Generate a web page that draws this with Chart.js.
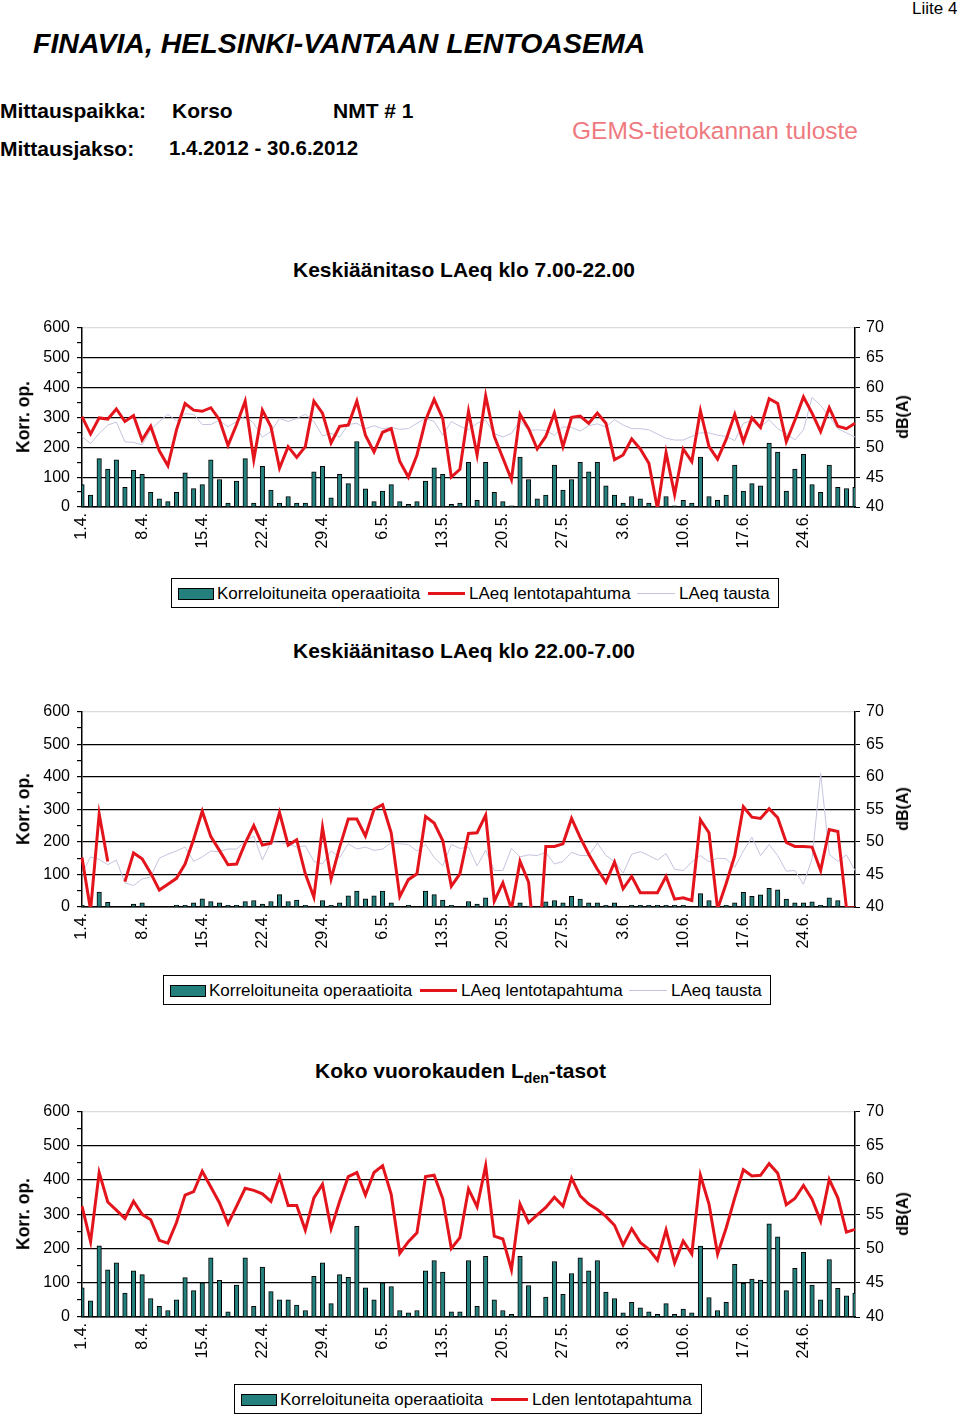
<!DOCTYPE html>
<html>
<head>
<meta charset="utf-8">
<title>Korso NMT 1</title>
<script src="https://cdn.jsdelivr.net/npm/chart.js@4.4.1/dist/chart.umd.min.js"></script>
<style>
body { margin: 0; width: 960px; height: 1418px; position: relative; overflow: hidden; background: #fff;
       font-family: "Liberation Sans", Arial, sans-serif; color: #000; }
.t { position: absolute; white-space: nowrap; line-height: 1; transform: translateY(-50%); }
.b { font-weight: bold; }
.rot { position: absolute; white-space: nowrap; line-height: 1; font-weight: bold; transform: translate(-50%, -50%) rotate(-90deg); }
canvas { position: absolute; left: 0; }
.legend { position: absolute; border: 1.5px solid #000; height: 30px; box-sizing: border-box; }
.legend span { position: absolute; top: 50%; transform: translateY(-50%); white-space: nowrap; font-size: 17px; line-height: 1; }
.legend i { position: absolute; display: block; }
</style>
</head>
<body>

<div class="t" style="left:912px;top:8px;font-size:17px;">Liite 4</div>
<div class="t b" style="left:33px;top:43px;font-size:28.5px;font-style:italic;">FINAVIA, HELSINKI-VANTAAN LENTOASEMA</div>
<div class="t b" style="left:0;top:110px;font-size:21px;">Mittauspaikka:</div>
<div class="t b" style="left:172px;top:110px;font-size:21px;">Korso</div>
<div class="t b" style="left:333px;top:110px;font-size:21px;">NMT # 1</div>
<div class="t b" style="left:0;top:148px;font-size:21px;">Mittausjakso:</div>
<div class="t b" style="left:169px;top:148px;font-size:20.5px;">1.4.2012 - 30.6.2012</div>
<div class="t" style="left:572px;top:131px;font-size:24.5px;color:#ee7a80;">GEMS-tietokannan tuloste</div>

<div class="t b" style="left:293px;top:269px;font-size:21px;">Keskiäänitaso LAeq klo 7.00-22.00</div>
<canvas id="c1" width="960" height="259" style="top:311px;width:960px;height:259px;"></canvas>
<div class="rot" style="left:24px;top:417px;font-size:17.5px;">Korr. op.</div>
<div class="rot" style="left:903px;top:417px;font-size:16px;">dB(A)</div>
<div id="lg1"></div>

<div class="t b" style="left:293px;top:650px;font-size:21px;">Keskiäänitaso LAeq klo 22.00-7.00</div>
<canvas id="c2" width="960" height="275" style="top:695px;width:960px;height:275px;"></canvas>
<div class="rot" style="left:24px;top:809px;font-size:17.5px;">Korr. op.</div>
<div class="rot" style="left:903px;top:809px;font-size:16px;">dB(A)</div>
<div id="lg2"></div>

<div class="t b" style="left:315px;top:1072px;font-size:21px;">Koko vuorokauden L<sub style="font-size:14px;vertical-align:-5px;">den</sub>-tasot</div>
<canvas id="c3" width="960" height="285" style="top:1095px;width:960px;height:285px;"></canvas>
<div class="rot" style="left:24px;top:1214px;font-size:17.5px;">Korr. op.</div>
<div class="rot" style="left:903px;top:1214px;font-size:16px;">dB(A)</div>
<div id="lg3"></div>

<script>
// days 1.4. - 30.6.2012
const months = [[4, 30], [5, 31], [6, 30]];
const days = [];
for (const [m, n] of months) {
    for (let d = 1; d <= n; d++) days.push(d + '.' + m + '.');
}
const tickDays = ['1.4.', '8.4.', '15.4.', '22.4.', '29.4.', '6.5.', '13.5.', '20.5.', '27.5.', '3.6.', '10.6.', '17.6.', '24.6.'];

// Keskiäänitaso klo 7-22
const dayOps = [75, 40, 162, 127, 158, 66, 123, 109, 49, 27, 18, 49, 114, 62, 75, 158, 92, 13, 87, 162,
    13, 136, 57, 13, 35, 13, 13, 118, 136, 31, 109, 78, 219, 61, 18, 53, 75, 18, 9, 18,
    87, 131, 109, 9, 13, 149, 22, 149, 49, 18, 4, 167, 92, 27, 40, 140, 57, 92, 149, 118,
    149, 71, 40, 13, 35, 27, 13, 0, 35, 4, 22, 13, 167, 35, 22, 40, 140, 53, 78, 71,
    214, 184, 53, 127, 176, 75, 49, 140, 66, 62, 66];
const dayFlight = [55.1, 52.2, 54.9, 54.7, 56.4, 54.3, 55.3, 51.2, 53.5, 49.4, 46.9, 52.9, 57.3, 56.2, 56.0, 56.6, 54.6, 50.3, 53.8, 57.7,
    47.9, 56.2, 53.4, 46.5, 50.1, 48.3, 50.1, 57.7, 55.7, 50.7, 53.5, 53.7, 57.7, 52.0, 49.2, 52.5, 53.1, 47.6, 45.0, 48.7,
    54.5, 58.0, 54.8, 45.0, 46.3, 56.0, 48.7, 58.6, 51.8, 48.2, 44.6, 55.5, 53.1, 49.7, 51.8, 55.7, 50.1, 55.0, 55.2, 54.0,
    55.7, 54.0, 47.9, 48.7, 51.4, 49.7, 47.3, 39.7, 49.1, 42.1, 49.7, 47.6, 56.1, 50.1, 48.0, 51.3, 55.5, 50.9, 54.9, 53.3,
    58.1, 57.3, 50.9, 54.5, 58.4, 55.7, 52.6, 56.6, 53.5, 53.1, 54.0];
const dayBackground = [51.8, 50.6, 52.3, 53.7, 54.2, 50.9, 50.8, 50.4, 52.9, 54.3, 55.5, 54.4, 55.6, 55.5, 53.8, 53.8, 54.5, 53.4, 54.3, 55.2,
    54.0, 51.7, 52.6, 54.8, 54.3, 54.8, 55.5, 54.3, 51.9, 52.3, 51.7, 53.8, 54.0, 53.1, 53.6, 53.1, 53.3, 53.0, 53.1, 54.0,
    54.8, 54.3, 52.0, 54.3, 53.5, 52.9, 54.0, 54.5, 52.3, 51.7, 52.3, 54.5, 52.8, 52.9, 52.8, 52.0, 53.4, 53.3, 52.7, 53.6,
    53.9, 53.4, 54.6, 53.7, 53.1, 53.1, 52.9, 52.2, 51.5, 51.2, 51.2, 51.8, 52.4, 52.4, 52.0, 51.8, 51.1, 54.0, 54.5, 53.4,
    54.6, 53.1, 52.3, 51.2, 52.9, 58.3, 57.0, 55.1, 53.1, 52.4, 51.7];

// Keskiäänitaso klo 22-7
const nightOps = [5, 0, 46, 14, 0, 0, 9, 13, 0, 0, 0, 5, 5, 13, 25, 17, 13, 5, 5, 17,
    20, 9, 17, 38, 17, 21, 5, 0, 20, 5, 13, 34, 49, 25, 34, 49, 13, 0, 5, 0,
    49, 38, 21, 5, 0, 17, 9, 28, 0, 0, 0, 13, 3, 0, 16, 20, 13, 33, 24, 13,
    13, 5, 13, 0, 5, 5, 5, 5, 5, 5, 5, 0, 41, 20, 0, 5, 13, 45, 33, 37,
    57, 53, 24, 13, 13, 16, 5, 28, 20, 0, 0];
const nightFlight = [47.6, 39.5, 54.3, 47.0, null, 43.9, 48.3, 47.4, 45.2, 42.6, 43.5, 44.4, 46.6, 50.4, 54.7, 50.8, 48.7, 46.5, 46.6, 49.8,
    52.5, 49.5, 49.8, 54.5, 49.5, 50.3, 45.1, 41.5, 52.2, 44.3, 49.2, 53.5, 53.5, 50.9, 55.0, 55.7, 51.4, 41.6, 44.2, 45.1,
    53.9, 52.9, 50.2, 43.2, 45.1, 51.3, 51.4, 54.1, 40.9, 43.7, 39.7, 47.0, 43.8, 30.0, 49.3, 49.3, 49.7, 53.6, 50.7, 48.1,
    45.8, 43.8, 46.9, 42.8, 44.7, 42.2, 42.2, 42.2, 44.7, 41.2, 41.4, 41.0, 53.4, 51.4, 39.7, 43.6, 47.9, 55.4, 53.8, 53.6,
    55.1, 53.7, 49.9, 49.3, 49.3, 49.2, 45.6, 51.9, 51.6, 39.9, 39.9];
const nightBackground = [45.1, 47.7, 47.3, 46.5, 47.2, 43.7, 43.3, 44.3, 44.6, 47.5, 48.1, 48.6, 49.2, 47.0, 47.7, 48.6, 48.5, 48.9, 48.9, 50.1,
    50.9, 47.2, 50.0, 49.9, 49.7, 49.2, 49.4, 47.0, 46.6, 48.6, 47.6, 49.7, 48.9, 49.2, 48.7, 48.9, 49.9, 49.7, 49.6, 48.6,
    49.6, 47.6, 46.3, 49.6, 49.0, 49.2, 46.3, 48.7, 45.6, 45.6, 49.0, 47.7, 48.0, 47.9, 48.4, 46.6, 47.0, 48.4, 47.9, 47.9,
    49.8, 47.9, 47.0, 45.2, 48.1, 48.5, 47.9, 47.2, 48.2, 45.8, 45.6, 46.9, 47.9, 46.9, 47.5, 47.4, 46.1, 48.6, 50.7, 47.9,
    49.6, 47.9, 45.5, 45.6, 43.5, 47.4, 60.5, 48.1, 47.0, 48.0, 45.6];

// Koko vuorokausi, Lden
const denOps = [85, 47, 208, 138, 158, 70, 135, 124, 54, 31, 19, 50, 115, 77, 100, 173, 107, 15, 93, 173,
    31, 146, 74, 50, 50, 35, 19, 119, 158, 39, 124, 116, 265, 85, 50, 100, 89, 19, 12, 19,
    135, 165, 131, 15, 15, 165, 31, 177, 50, 19, 8, 177, 92, 0, 58, 162, 66, 127, 173, 135,
    165, 73, 54, 12, 43, 27, 15, 8, 39, 8, 23, 12, 207, 57, 19, 43, 154, 98, 111, 108,
    272, 234, 77, 142, 189, 93, 50, 168, 84, 62, 70];
const denFlight = [56.2, 51.0, 61.1, 56.8, 55.6, 54.4, 56.9, 55.0, 54.2, 51.2, 50.8, 53.8, 57.8, 58.3, 61.3, 59.0, 56.7, 53.6, 56.2, 58.8,
    58.5, 58.0, 56.9, 60.5, 56.3, 56.3, 52.7, 57.4, 59.4, 52.9, 56.9, 60.5, 61.1, 57.8, 61.1, 62.1, 57.9, 49.3, 51.0, 52.3,
    60.5, 60.7, 57.3, 50.0, 51.6, 58.7, 56.1, 62.1, 51.8, 51.4, 46.9, 56.5, 53.8, 54.9, 56.0, 57.5, 56.2, 60.3, 57.7, 56.5,
    55.7, 54.7, 53.4, 50.5, 52.9, 50.9, 49.9, 48.3, 52.7, 47.9, 51.1, 49.2, 60.7, 56.5, 49.2, 53.0, 57.4, 61.5, 60.6, 60.7,
    62.4, 61.0, 56.4, 57.3, 59.2, 57.2, 54.0, 60.1, 57.4, 52.4, 52.8];

const TEAL = '#23807d';
const RED = '#e3141c';
const GRAY = '#c4c4de';

function drawChart(id, ops, flight, background) {
    const datasets = [{
        type: 'line', data: flight, yAxisID: 'db', borderColor: RED, borderWidth: 3,
        pointRadius: 0, tension: 0, order: 1
    }];
    if (background) {
        datasets.push({
            type: 'line', data: background, yAxisID: 'db', borderColor: GRAY, borderWidth: 1,
            pointRadius: 0, tension: 0, order: 2
        });
    }
    datasets.push({
        type: 'bar', data: ops, yAxisID: 'ops', backgroundColor: TEAL, borderColor: '#000',
        borderWidth: 1, barThickness: 4.5, order: 3
    });

    new Chart(document.getElementById(id), {
        type: 'bar',
        data: { labels: days, datasets: datasets },
        options: {
            responsive: false,
            animation: false,
            layout: { padding: { top: 10, left: 0, right: 0, bottom: 0 } },
            plugins: { legend: { display: false }, tooltip: { enabled: false } },
            scales: {
                x: {
                    offset: false,
                    grid: { display: false, drawTicks: false },
                    border: { color: '#000', width: 1.5 },
                    ticks: {
                        autoSkip: false, minRotation: 90, maxRotation: 90, padding: 6,
                        color: '#000', font: { size: 16, family: 'Liberation Sans' },
                        callback: (v, i) => tickDays.includes(days[i]) ? days[i] : ''
                    },
                    afterFit: s => { s.height = 63; }
                },
                ops: {
                    position: 'left', min: 0, max: 600,
                    ticks: {
                        stepSize: 50, autoSkip: false, padding: 7, color: '#000',
                        font: { size: 16, family: 'Liberation Sans' },
                        callback: v => v % 100 === 0 ? v : ''
                    },
                    grid: {
                        color: c => c.tick.value === 600 ? '#dcdcdc' : (c.tick.value % 100 === 0 ? '#000' : 'rgba(0,0,0,0)'),
                        tickColor: '#000', tickLength: 5, lineWidth: 1.2
                    },
                    border: { color: '#000', width: 1.5 },
                    afterFit: s => { s.width = 82; }
                },
                db: {
                    position: 'right', min: 40, max: 70,
                    ticks: { stepSize: 5, padding: 6, color: '#000', font: { size: 16, family: 'Liberation Sans' } },
                    grid: { drawOnChartArea: false, tickColor: '#000', tickLength: 5 },
                    border: { color: '#000', width: 1.5 },
                    afterFit: s => { s.width = 105; }
                }
            }
        }
    });
}

function legend(id, left, top, width, redText, withBackground) {
    let html = '<div class="legend" style="left:' + left + 'px;top:' + top + 'px;width:' + width + 'px;">' +
        '<i style="left:6px;top:9px;width:34px;height:10px;background:' + TEAL + ';border:1px solid #000;"></i>' +
        '<span style="left:45px;">Korreloituneita operaatioita</span>' +
        '<i style="left:256px;top:13px;width:37px;height:3px;background:' + RED + ';"></i>' +
        '<span style="left:297px;">' + redText + '</span>';
    if (withBackground) {
        html += '<i style="left:465px;top:14px;width:38px;height:1px;background:' + GRAY + ';"></i>' +
            '<span style="left:507px;">LAeq tausta</span>';
    }
    html += '</div>';
    document.getElementById(id).innerHTML = html;
}

drawChart('c1', dayOps, dayFlight, dayBackground);
drawChart('c2', nightOps, nightFlight, nightBackground);
drawChart('c3', denOps, denFlight, null);

legend('lg1', 171, 578, 608, 'LAeq lentotapahtuma', true);
legend('lg2', 163, 975, 608, 'LAeq lentotapahtuma', true);
legend('lg3', 234, 1384, 468, 'Lden lentotapahtuma', false);
</script>
</body>
</html>
